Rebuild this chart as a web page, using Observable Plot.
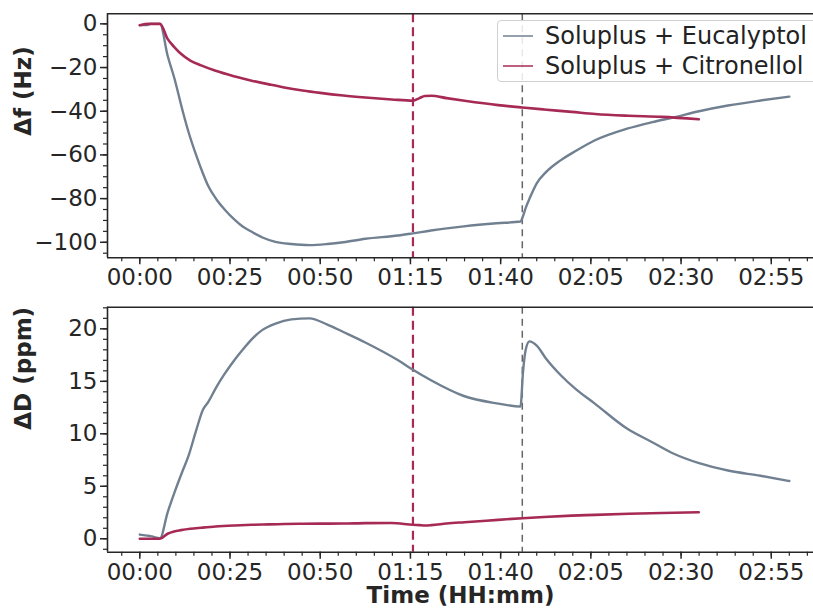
<!DOCTYPE html>
<html>
<head>
<meta charset="utf-8">
<script src="https://cdn.jsdelivr.net/npm/d3@7"></script>
<script src="https://cdn.jsdelivr.net/npm/@observablehq/plot@0.6"></script>
<style>
  html, body { margin: 0; padding: 0; background: white; overflow: hidden; width: 813px; height: 609px; }
  #wrap { position: relative; width: 813px; height: 609px; font-family: "DejaVu Sans", sans-serif; }
  #wrap svg { display: block; }
  #legend { position: absolute; left: 497px; top: 20px; width: 330px; height: 62px; box-sizing: border-box;
            border: 1px solid #d0d0d0; border-radius: 4px; background: rgba(255,255,255,0.85);
            font-size: 24px; color: #222; }
  .row { position: absolute; left: 0; height: 30px; display: flex; align-items: center; white-space: nowrap; }
  .row svg { margin-left: 5px; margin-right: 12px; }
</style>
</head>
<body>
<div id="wrap"></div>
<script>
// ---------- data (time in minutes) ----------
const seriesNames = ["Soluplus + Eucalyptol", "Soluplus + Citronellol"];
const seriesColors = ["#718091", "#a62a55"];

const eucTime = [0, 2, 3, 5.6, 7.7, 9.6, 11.9, 13.5, 15.6, 17.5, 18.9, 21.3, 23.5, 26.4, 28.5, 31, 34, 37.6, 42, 47, 52, 56.4, 62.5, 71.6, 75.7, 80.7, 89.8, 98.9, 105.5, 106.2, 107, 108, 110, 112.5, 116.6, 121, 126, 135, 142, 148, 155, 163, 172, 180];
const eucDf = [-0.6, -0.6, 0, 0, -14.5, -25, -40, -49.5, -60, -68.5, -74, -80.5, -85, -89.9, -92.8, -95.2, -97.8, -99.8, -100.8, -101.3, -100.8, -100, -98.4, -96.9, -95.9, -94.6, -92.7, -91.3, -90.5, -88, -84, -80, -73, -68, -62.5, -58, -53.4, -48, -45, -42.8, -40, -37.4, -35.1, -33.3];
const eucDD = [0.4, 0.3, 0.25, 0.06, 2.5, 4.4, 6.5, 7.9, 10.3, 12.3, 13.0, 14.5, 15.7, 17.1, 18.0, 19.0, 19.9, 20.5, 20.9, 21.0, 20.4, 19.7, 18.7, 17.0, 16.1, 15.1, 13.6, 12.9, 12.6, 15.9, 18.1, 18.8, 18.4, 17.2, 15.6, 14.2, 12.9, 10.5, 9.2, 8.1, 7.2, 6.5, 6.0, 5.5];

const citTime = [0, 2.5, 5.6, 7.7, 9.5, 11.4, 14, 17, 21, 26.4, 31, 35.8, 40, 45.1, 50, 56.4, 62.5, 69.8, 75.7, 77.5, 79, 80.8, 85, 90, 99.3, 106, 112, 119.7, 126.2, 135.5, 144.7, 154.9];
const citDf = [-0.6, 0, 0, -6.9, -10.5, -13.7, -16.8, -19, -21.5, -24.1, -26, -27.7, -29.1, -30.5, -31.6, -32.8, -33.7, -34.6, -35.2, -34, -33, -32.9, -34, -35.2, -37.2, -38.3, -39.2, -40.3, -41.3, -42.1, -42.6, -43.7];
const citDD = [0, 0, 0, 0.48, 0.7, 0.82, 0.95, 1.05, 1.17, 1.27, 1.33, 1.37, 1.4, 1.43, 1.44, 1.45, 1.49, 1.5, 1.33, 1.3, 1.27, 1.3, 1.45, 1.58, 1.8, 1.96, 2.08, 2.2, 2.28, 2.38, 2.46, 2.53];

const eventTimes = [75.7, 106];           // dashed markers: citronellol, eucalyptol
const xMajor = [0, 25, 50, 75, 100, 125, 150, 175];
const xMinor = d3.range(-5, 190, 5);
const dfMajor = [-100, -80, -60, -40, -20, 0];
const dfMinor = d3.range(-105, 1, 5);
const ddMajor = [0, 5, 10, 15, 20];
const ddMinor = d3.range(-1, 23, 1);

const xDomain = [-8.95, 186.7];
const dfDomain = [-107.1, 4.6];
const ddDomain = [-1.28, 22.06];

// ---------- helpers ----------
const pad = n => String(n).padStart(2, "0");
const hhmm = t => pad(Math.floor(t / 60)) + ":" + pad(t % 60);
const rows = (ts, vs) => ts.map((t, i) => ({t, v: vs[i]}));
const ink = "#262626";

function panel({yDomain, yMajor, yMinor, label, euc, cit, height, marginTop, marginBottom, xLabel}) {
  const marks = [
    Plot.ruleX([eventTimes[0]], {stroke: seriesColors[1], strokeWidth: 2.2, strokeDasharray: "9,5"}),
    Plot.ruleX([eventTimes[1]], {stroke: "#666", strokeWidth: 1.5, strokeDasharray: "7,5"}),
    Plot.line(euc, {x: "t", y: "v", stroke: seriesColors[0], strokeWidth: 2.4, curve: "monotone-x"}),
    Plot.line(cit, {x: "t", y: "v", stroke: seriesColors[1], strokeWidth: 2.6, curve: "monotone-x"}),
    Plot.ruleY([yDomain[1]], {stroke: ink, strokeWidth: 1.6}),
    Plot.ruleY([yDomain[0]], {stroke: ink, strokeWidth: 1.6}),
    Plot.ruleX([xDomain[0]], {stroke: ink, strokeWidth: 1.6}),
    Plot.axisX(xMajor, {tickSize: 7, tickPadding: 4, tickFormat: hhmm, label: null, fontSize: 23, stroke: ink, strokeWidth: 1.5}),
    Plot.axisX(xMinor, {tickSize: 4, tickFormat: () => "", label: null, stroke: ink, strokeWidth: 1.2}),
    Plot.axisY(yMajor, {tickSize: 7, tickPadding: 3, label: null, fontSize: 23, stroke: ink, strokeWidth: 1.5}),
    Plot.axisY(yMinor, {tickSize: 4, tickFormat: () => "", label: null, stroke: ink, strokeWidth: 1.2}),
    Plot.text([label], {frameAnchor: "left", dx: -84, rotate: -90, fontWeight: "bold", fontSize: 23, fill: ink})
  ];
  if (xLabel) marks.push(Plot.text([xLabel], {frameAnchor: "bottom", dy: 51, fontWeight: "bold", fontSize: 23, fill: ink}));
  return Plot.plot({
    width: 813, height, marginLeft: 107, marginRight: 0, marginTop, marginBottom,
    style: {fontFamily: "DejaVu Sans", fontSize: "23px", color: ink, background: "white", overflow: "visible"},
    x: {domain: xDomain},
    y: {domain: yDomain},
    marks
  });
}

const wrap = document.getElementById("wrap");
wrap.append(panel({
  yDomain: dfDomain, yMajor: dfMajor, yMinor: dfMinor, label: "Δf (Hz)",
  euc: rows(eucTime, eucDf), cit: rows(citTime, citDf),
  height: 290, marginTop: 13.3, marginBottom: 32.7
}));
wrap.append(panel({
  yDomain: ddDomain, yMajor: ddMajor, yMinor: ddMinor, label: "ΔD (ppm)",
  euc: rows(eucTime, eucDD), cit: rows(citTime, citDD),
  height: 319, marginTop: 16.7, marginBottom: 57.3, xLabel: "Time (HH:mm)"
}));

// legend (inside the upper panel, upper right)
const legend = document.createElement("div");
legend.id = "legend";
seriesNames.forEach((name, i) => {
  const r = document.createElement("div");
  r.className = "row";
  r.style.top = (i === 0 ? 0 : 30) + "px";
  r.innerHTML = `<svg width="30" height="10"><line x1="0" x2="30" y1="5" y2="5" stroke="${seriesColors[i]}" stroke-opacity="0.75" stroke-width="2"/></svg><span>${name}</span>`;
  legend.append(r);
});
wrap.append(legend);
</script>
</body>
</html>
